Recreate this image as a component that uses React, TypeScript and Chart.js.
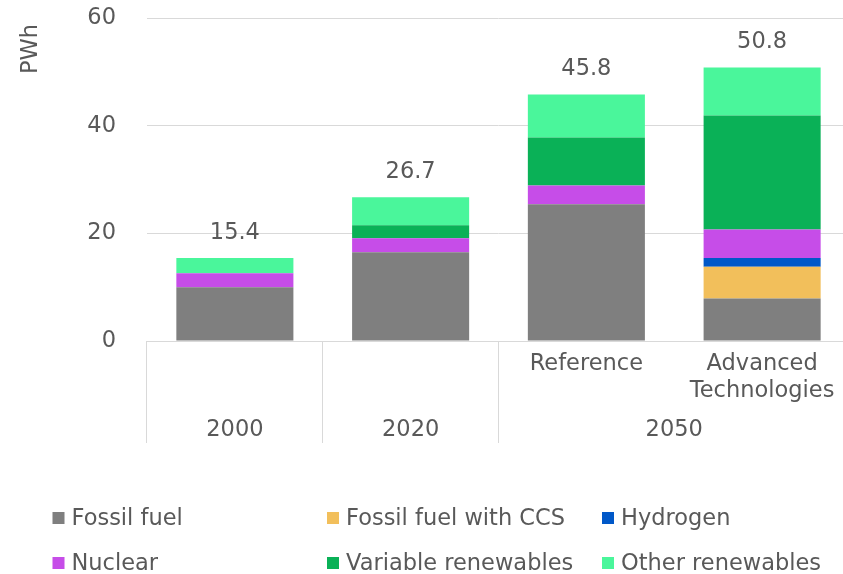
import React, { useEffect, useRef } from "react";
import { Chart, registerables } from "chart.js";

Chart.register(...registerables);

// ---- data ----
const categories = ["2000", "2020", "Reference", "Advanced Technologies"];
const innerLabels: string[][] = [[], [], ["Reference"], ["Advanced", "Technologies"]];
const groupLabels = ["2000", "2020", "2050"];
const groupStarts = [0, 1, 2];
const groupEnds = [0, 1, 3];

const fossil = [10.0, 16.5, 25.4, 7.9];
const fossilCCS = [0, 0, 0, 5.9];
const hydrogen = [0, 0, 0, 1.6];
const nuclear = [2.6, 2.6, 3.5, 5.3];
const variableRen = [0, 2.4, 8.9, 21.2];
const otherRen = [2.8, 5.2, 8.0, 8.9];

const yTicks = [0, 20, 40, 60];

const seriesNames = [
  "Fossil fuel",
  "Fossil fuel with CCS",
  "Hydrogen",
  "Nuclear",
  "Variable renewables",
  "Other renewables",
];
const seriesValues = [fossil, fossilCCS, hydrogen, nuclear, variableRen, otherRen];
const seriesColors = ["#7F7F7F", "#F2BF5B", "#0058C8", "#C64DE8", "#0AB157", "#4AF69B"];

// legend layout order (rows of three)
const legendOrder = [0, 1, 2, 3, 4, 5];

const FONT = "'DejaVu Sans', Verdana, sans-serif";
const FS = 22.5;
const TEXT = "#595959";
const GRID = "#D9D9D9";

const overlayPlugin = {
  id: "overlay",
  afterDraw(chart: any) {
    const ctx = chart.ctx as CanvasRenderingContext2D;
    const x = chart.scales.x;
    const y = chart.scales.y;
    const area = chart.chartArea;
    const n = categories.length;
    const edge = (i: number) => {
      if (i <= 0) return area.left;
      if (i >= n) return area.right;
      return (x.getPixelForValue(i - 1) + x.getPixelForValue(i)) / 2;
    };
    ctx.save();
    // separators
    ctx.strokeStyle = GRID;
    ctx.lineWidth = 1;
    const bounds = new Set<number>();
    groupStarts.forEach((s) => bounds.add(s));
    bounds.add(n);
    bounds.forEach((b) => {
      const px = Math.round(edge(b)) - 0.5;
      ctx.beginPath();
      ctx.moveTo(px, area.bottom);
      ctx.lineTo(px, area.bottom + 102);
      ctx.stroke();
    });
    ctx.fillStyle = TEXT;
    ctx.font = `${FS}px ${FONT}`;
    ctx.textAlign = "center";
    ctx.textBaseline = "middle";
    // inner labels
    innerLabels.forEach((lines, i) => {
      const cx = x.getPixelForValue(i);
      lines.forEach((t, k) => ctx.fillText(t, cx, area.bottom + 23 + k * 27));
    });
    // group labels
    groupLabels.forEach((g, i) => {
      const cx = (edge(groupStarts[i]) + edge(groupEnds[i] + 1)) / 2;
      ctx.fillText(g, cx, area.bottom + 89);
    });
    // totals
    categories.forEach((_, i) => {
      const total = seriesValues.reduce((s, arr) => s + arr[i], 0);
      const py = y.getPixelForValue(total);
      ctx.fillText(total.toFixed(1), x.getPixelForValue(i), py - 25);
    });
    // y title
    ctx.save();
    ctx.translate(31, 49);
    ctx.rotate(-Math.PI / 2);
    ctx.fillText("PWh", 0, 0);
    ctx.restore();
    // legend
    const colX = [52.5, 327, 602];
    const rowY = [518, 563];
    ctx.textAlign = "left";
    legendOrder.forEach((si, k) => {
      const bx = colX[k % 3];
      const by = rowY[Math.floor(k / 3)];
      ctx.fillStyle = seriesColors[si];
      ctx.fillRect(bx, by - 6, 12, 12);
      ctx.fillStyle = TEXT;
      ctx.fillText(seriesNames[si], bx + 19, by + 1);
    });
    ctx.restore();
  },
};

export default function App() {
  const ref = useRef<HTMLCanvasElement | null>(null);
  useEffect(() => {
    if (!ref.current) return;
    const chart = new Chart(ref.current, {
      type: "bar",
      data: {
        labels: categories,
        datasets: seriesNames.map((name, i) => ({
          label: name,
          data: seriesValues[i],
          backgroundColor: seriesColors[i],
          borderWidth: 0,
          categoryPercentage: 1,
          barPercentage: 0.666,
        })),
      },
      options: {
        animation: false,
        responsive: false,
        devicePixelRatio: 1,
        layout: { padding: { top: 18, right: 6, left: 0, bottom: 0 } },
        plugins: {
          legend: { display: false },
          tooltip: { enabled: false },
        },
        scales: {
          x: {
            stacked: true,
            grid: { display: false },
            border: { display: false },
            ticks: { display: false },
            afterFit: (s: any) => {
              s.height = 233;
              s.paddingLeft = 0;
              s.paddingRight = 0;
            },
          },
          y: {
            stacked: true,
            min: 0,
            max: 60,
            afterBuildTicks: (s: any) => {
              s.ticks = yTicks.map((v) => ({ value: v }));
            },
            grid: { color: GRID, lineWidth: 1, drawTicks: false },
            border: { display: false },
            ticks: {
              color: TEXT,
              font: { family: FONT, size: FS },
              padding: 31,
            },
            afterFit: (s: any) => {
              s.width = 147;
              s.paddingTop = 0;
              s.paddingBottom = 0;
            },
          },
        },
      },
      plugins: [overlayPlugin],
    });
    return () => chart.destroy();
  }, []);
  return (
    <div
      style={{
        position: "fixed",
        left: 0,
        top: 0,
        width: 843,
        height: 574,
        overflow: "hidden",
        background: "#fff",
      }}
    >
      <canvas ref={ref} width={856} height={574} style={{ display: "block" }} />
    </div>
  );
}
